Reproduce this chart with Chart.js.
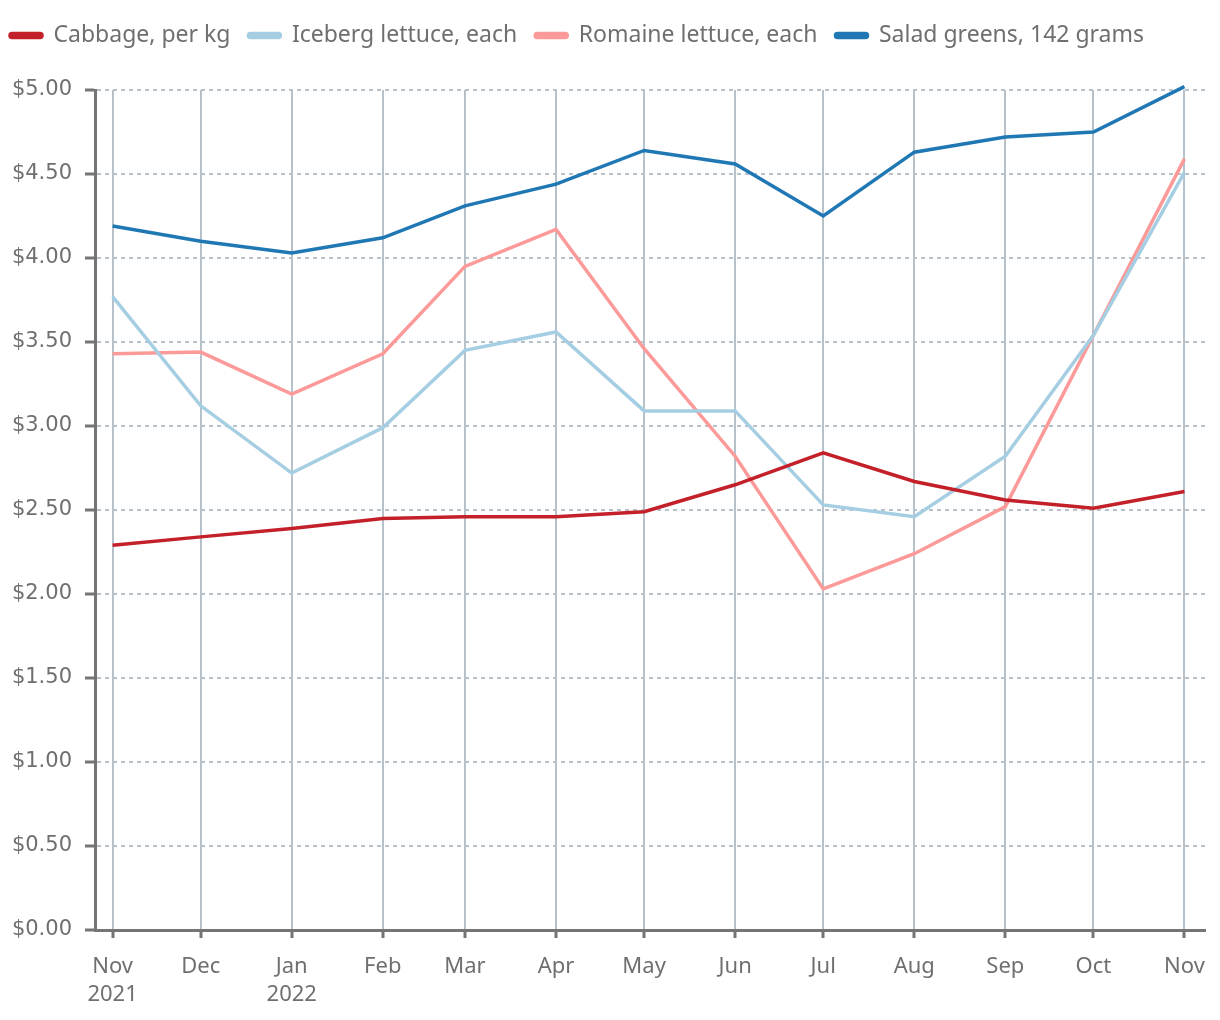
<!DOCTYPE html>
<html>
<head>
<meta charset="utf-8">
<script src="https://cdn.jsdelivr.net/npm/chart.js@4/dist/chart.umd.min.js"></script>
<style>
  html, body { margin: 0; padding: 0; background: #fff; }
  #wrap { width: 1220px; height: 1020px; position: relative; }
</style>
</head>
<body>
<div id="wrap"><canvas id="priceChart"></canvas></div>
<script>
// months shown on the x axis (first of each month)
const months = ['2021-11-01', '2021-12-01', '2022-01-01', '2022-02-01', '2022-03-01', '2022-04-01',
  '2022-05-01', '2022-06-01', '2022-07-01', '2022-08-01', '2022-09-01', '2022-10-01', '2022-11-01'];
const monthLabels = [['Nov', '2021'], 'Dec', ['Jan', '2022'], 'Feb', 'Mar', 'Apr', 'May', 'Jun',
  'Jul', 'Aug', 'Sep', 'Oct', 'Nov'];

const cabbage = [2.29, 2.34, 2.39, 2.45, 2.46, 2.46, 2.49, 2.65, 2.84, 2.67, 2.56, 2.51, 2.61];
const iceberg = [3.77, 3.12, 2.72, 2.99, 3.45, 3.56, 3.09, 3.09, 2.53, 2.46, 2.82, 3.54, 4.51];
const romaine = [3.43, 3.44, 3.19, 3.43, 3.95, 4.17, 3.46, 2.82, 2.03, 2.24, 2.52, 3.54, 4.59];
const saladGreens = [4.19, 4.10, 4.03, 4.12, 4.31, 4.44, 4.64, 4.56, 4.25, 4.63, 4.72, 4.75, 5.02];

const yTicks = [0, 0.5, 1, 1.5, 2, 2.5, 3, 3.5, 4, 4.5, 5];

// day offset of each month from the first one, so months get their real width
const DAY = 86400000;
const dayOffsets = months.map(d => (Date.parse(d) - Date.parse(months[0])) / DAY);

function toPoints(values) {
  return values.map((v, i) => ({ x: dayOffsets[i], y: v }));
}

const textColor = '#6f6f6f';
const axisColor = '#757575';
const gridColor = '#b7c1c9';
const fontFamily = '"Noto Sans", sans-serif';

function series(label, values, color) {
  return {
    label: label,
    data: toPoints(values),
    borderColor: color,
    backgroundColor: color,
    borderWidth: 3.5,
    pointRadius: 0,
    tension: 0,
    clip: false
  };
}

// extra room under the legend, and pull it a bit to the left
const legendGap = {
  id: 'legendGap',
  afterInit(chart) {
    const fit = chart.legend.fit;
    chart.legend.fit = function () {
      fit.call(this);
      this.height += 33;
    };
  },
  afterLayout(chart) {
    chart.legend.left -= 8;
  }
};

const ctx = document.getElementById('priceChart').getContext('2d');
const chart = new Chart(ctx, {
  type: 'line',
  data: {
    datasets: [
      series('Cabbage, per kg', cabbage, '#c4202a'),
      series('Iceberg lettuce, each', iceberg, '#a6cee3'),
      series('Romaine lettuce, each', romaine, '#fb9a99'),
      series('Salad greens, 142 grams', saladGreens, '#1f78b4')
    ]
  },
  plugins: [legendGap],
  options: {
    responsive: true,
    maintainAspectRatio: false,
    animation: false,
    layout: { padding: { top: 6, right: 15, left: 0, bottom: 0 } },
    plugins: {
      legend: {
        align: 'start',
        labels: {
          boxWidth: 32,
          boxHeight: 4,
          useBorderRadius: true,
          borderRadius: 2,
          padding: 18,
          color: textColor,
          font: { family: fontFamily, size: 23 }
        }
      },
      tooltip: { enabled: false }
    },
    scales: {
      x: {
        type: 'linear',
        min: -6,
        max: 372,
        afterBuildTicks: scale => { scale.ticks = dayOffsets.map(v => ({ value: v })); },
        afterFit: scale => { scale.height = 90; },
        border: { color: axisColor, width: 3 },
        grid: {
          color: gridColor,
          lineWidth: 2,
          tickLength: 8,
          tickColor: axisColor,
          tickWidth: 3
        },
        ticks: {
          autoSkip: false,
          maxRotation: 0,
          padding: 14,
          color: textColor,
          font: { family: fontFamily, size: 22, lineHeight: 1.3 },
          callback: (value, index) => monthLabels[index]
        }
      },
      y: {
        min: 0,
        max: 5,
        afterBuildTicks: scale => { scale.ticks = yTicks.map(v => ({ value: v })); },
        afterFit: scale => { scale.width = 95; },
        border: { color: axisColor, width: 3, dash: [4, 4] },
        grid: {
          color: gridColor,
          lineWidth: 2,
          tickLength: 10,
          tickColor: axisColor,
          tickWidth: 3
        },
        ticks: {
          padding: 13,
          color: textColor,
          font: { family: '"DejaVu Sans", sans-serif', size: 21 },
          callback: value => '$' + value.toFixed(2)
        }
      }
    }
  }
});
</script>
</body>
</html>
